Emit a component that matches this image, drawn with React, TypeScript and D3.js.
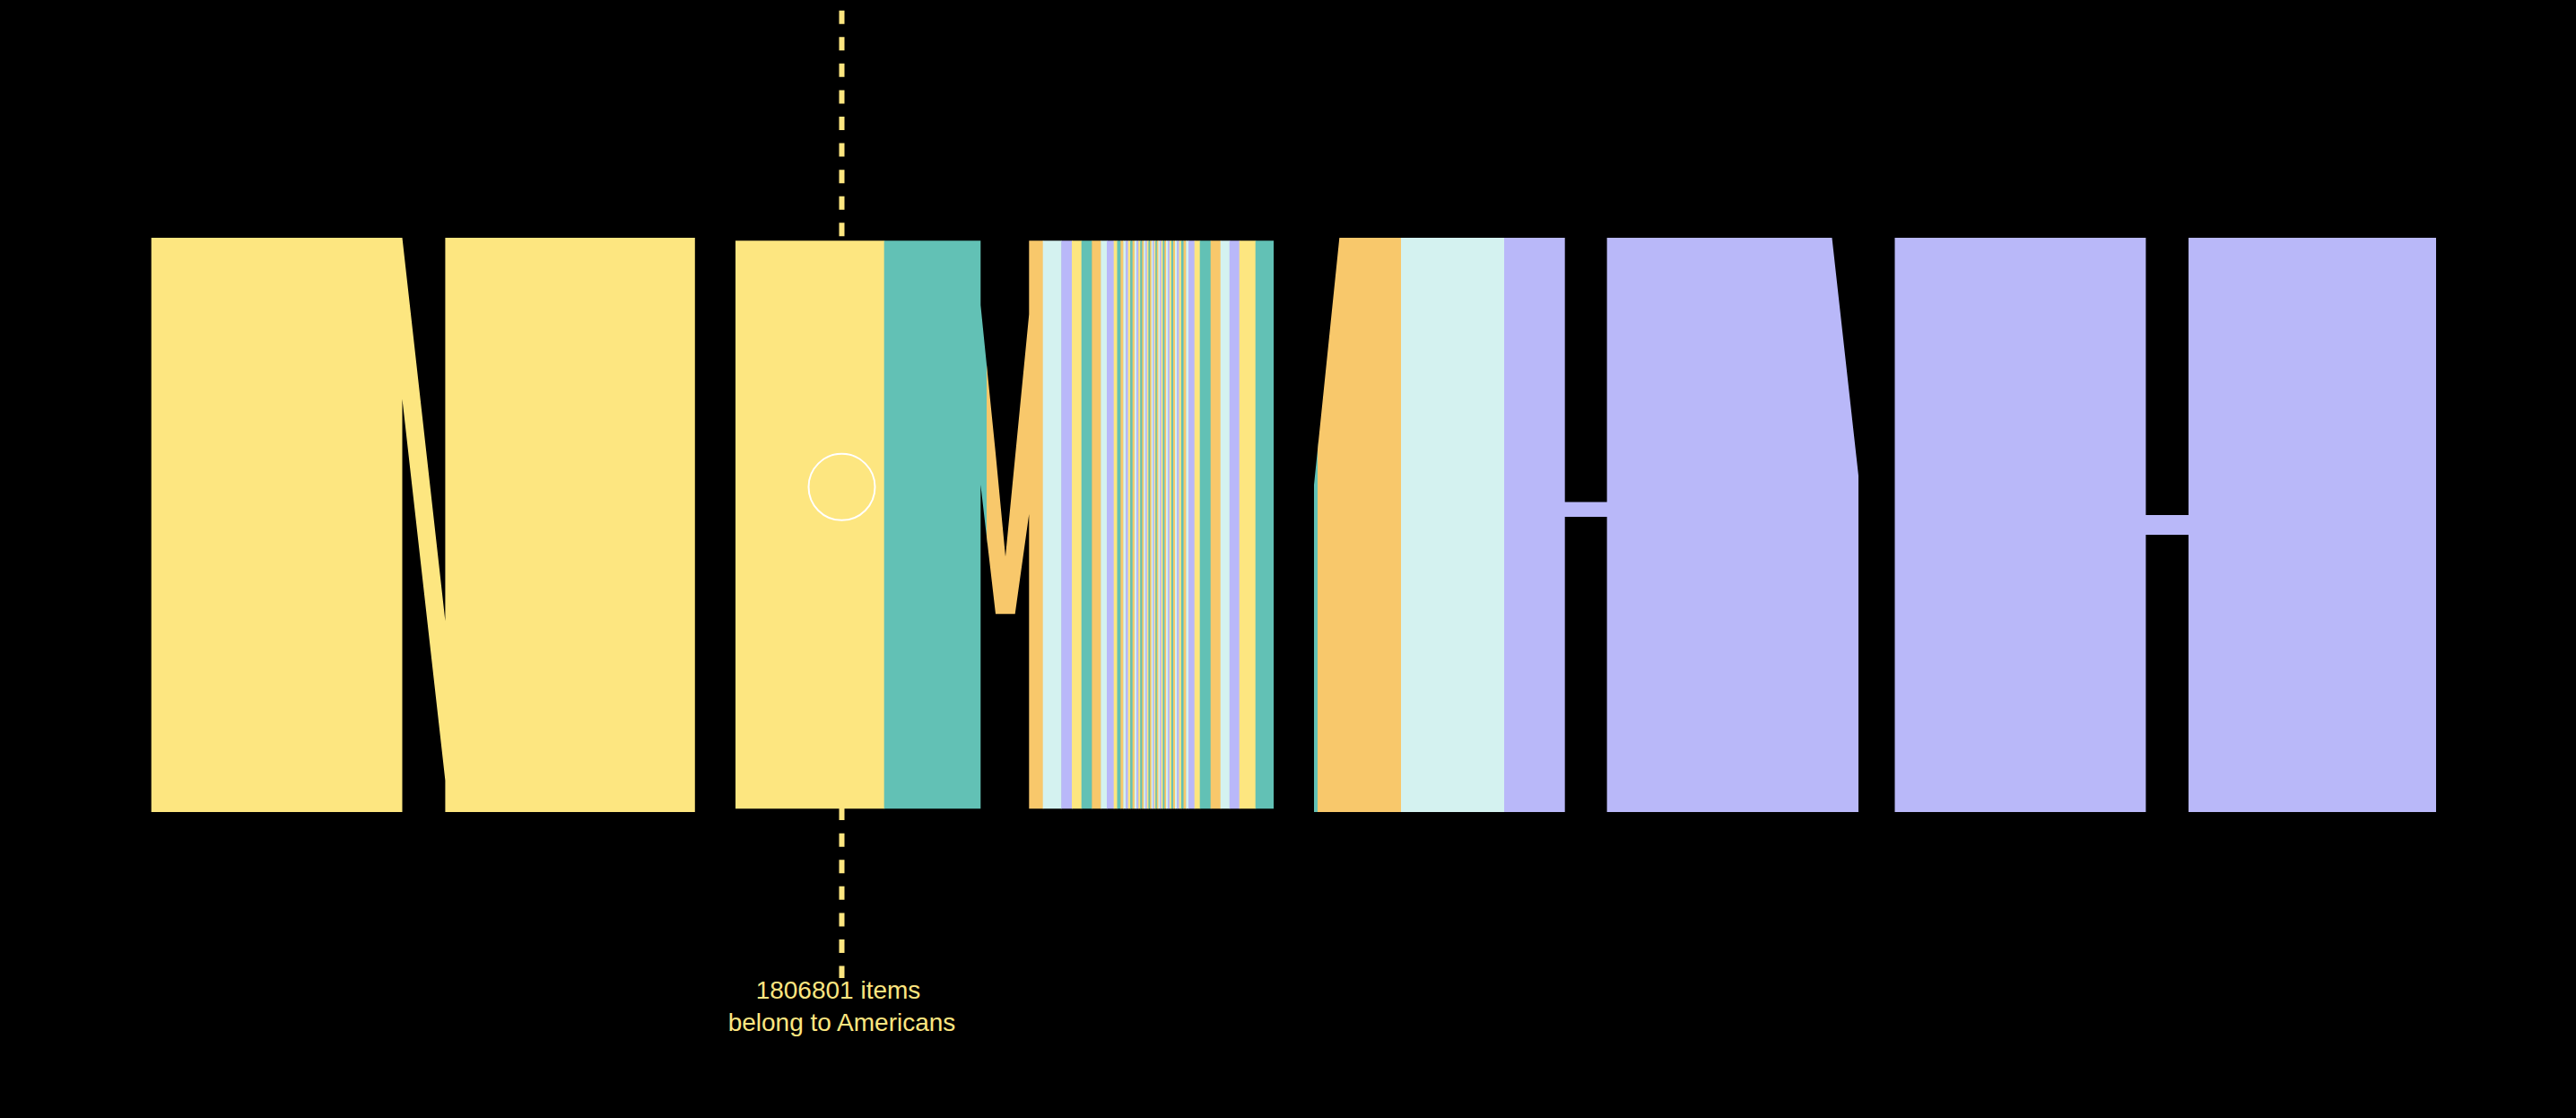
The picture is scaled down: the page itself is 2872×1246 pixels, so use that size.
import * as d3 from "d3";

// five-colour cycle, one colour per nationality in order
const palette = ["#fde680", "#62c1b5", "#f8c86b", "#d4f2f0", "#b9b8f9"];

// nationality widths, in columns (first one is Americans)
const headWidths = [817.7, 114.3, 62.7, 20.6, 11.7, 10.7, 11.6, 10.0, 6.7, 7.7, 3.8, 3.8];
const stripeWidths = [
  3.0, 2.8, 2.6, 2.5, 2.4, 2.3, 2.2, 2.1, 2.1, 2.0, 1.8, 1.8, 1.8, 1.7, 1.7, 1.6, 1.6, 1.5, 1.5,
  1.5, 1.6, 1.6, 1.7, 1.7, 1.8, 1.8, 1.9, 2.0, 2.0, 2.0, 2.1, 2.2, 2.3, 2.4, 2.6, 2.7, 2.8,
];
const tailWidths = [6.7, 6.0, 12, 11, 10, 11, 18, 69.3, 93, 115, 1038.7];

// letter strokes: [x0, x1, top0, top1, bottom0, bottom1]  (x in columns, y in % of letter height)
const letterN = [
  [0.7, 280.5, 0, 0, 100, 100],
  [280.5, 328.4, 0, 66.7, 28.1, 94.5],
  [328.4, 606.8, 0, 0, 100, 100],
];
const letterM = [
  [652, 925.3, 0.5, 0.5, 99.4, 99.4],
  [925.3, 942, 11.7, 37.5, 43.0, 65.5],
  [942, 953, 37.5, 55.5, 65.5, 65.5],
  [953, 963.7, 55.5, 38.3, 65.5, 65.5],
  [963.7, 980.3, 38.3, 11.7, 65.5, 47.0],
  [979.3, 1252, 0.5, 0.5, 99.4, 99.4],
];
const letterA = [
  [1297, 1325.3, 43, 0, 100, 100],
  [1325.3, 1576.7, 0, 0, 100, 100],
  [1576.7, 1623.6, 46, 46, 48.6, 48.6],
  [1623.6, 1874.5, 0, 0, 100, 100],
  [1874.5, 1904, 0, 41.4, 100, 100],
];
const letterH = [
  [1944.5, 2224.4, 0, 0, 100, 100],
  [2224.4, 2272, 48.3, 48.3, 51.7, 51.7],
  [2272, 2548, 0, 0, 100, 100],
];

const hovered = { nation: "Americans", items: 1806801, column: 770.5, level: 43.4 };

const width = 2872;
const height = 1246;
const margin = { top: 265, left: 168 };
const innerWidth = 2548;
const innerHeight = 640;

export default function App() {
  const x = d3.scaleLinear().domain([0, 2548]).range([0, innerWidth]);
  const y = d3.scaleLinear().domain([0, 100]).range([0, innerHeight]);

  const widths = [...headWidths, ...stripeWidths, ...tailWidths];
  const ends = d3.cumsum(widths);
  const bands = widths.map((w, i) => ({
    x0: ends[i] - w,
    x1: ends[i],
    color: palette[i % palette.length],
  }));

  const area = d3
    .area<number[]>()
    .x((d) => x(d[0]))
    .y0((d) => y(d[1]))
    .y1((d) => y(d[2]));

  const strokes = [...letterN, ...letterM, ...letterA, ...letterH];
  const paths = strokes.map((s) =>
    area([
      [s[0], s[2], s[4]],
      [s[1], s[3], s[5]],
    ])
  );

  const hx = x(hovered.column);
  const hy = y(hovered.level);
  const yellow = palette[0];

  return (
    <svg
      width={width}
      height={height}
      style={{ position: "absolute", left: 0, top: 0, background: "#000" }}
    >
      <rect width={width} height={height} fill="#000" />
      <defs>
        <clipPath id="letters">
          {paths.map((d, i) => (
            <path key={i} d={d || ""} />
          ))}
        </clipPath>
      </defs>
      <g transform={`translate(${margin.left},0)`}>
        <line
          x1={hx}
          x2={hx}
          y1={11.7}
          y2={1090}
          stroke={yellow}
          strokeWidth={6}
          strokeDasharray="15 14.58"
        />
      </g>
      <g transform={`translate(${margin.left},${margin.top})`}>
        <g clipPath="url(#letters)">
          {bands.map((b, i) => (
            <rect
              key={i}
              x={x(b.x0)}
              y={y(0)}
              width={x(b.x1) - x(b.x0) + 0.6}
              height={y(100)}
              fill={b.color}
            />
          ))}
        </g>
        <circle cx={hx} cy={hy} r={37} fill="none" stroke="#fff" strokeWidth={2} />
      </g>
      <g
        transform={`translate(${margin.left + hx},0)`}
        fill={yellow}
        fontFamily="'Liberation Sans', Arial, sans-serif"
        fontSize={28}
        textAnchor="middle"
      >
        <text x={-4} y={1113}>{`${hovered.items} items`}</text>
        <text y={1149}>{`belong to ${hovered.nation}`}</text>
      </g>
    </svg>
  );
}
